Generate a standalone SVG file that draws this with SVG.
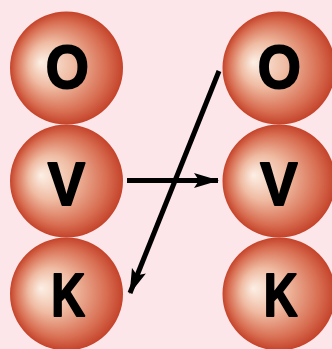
<svg xmlns="http://www.w3.org/2000/svg" width="332" height="349" viewBox="0 0 332 349">
<defs>
<radialGradient id="ball" cx="0.5" cy="0.5" r="0.5" fx="0.27" fy="0.45">
<stop offset="0" stop-color="#fcefe5"/>
<stop offset="0.4" stop-color="#efbba2"/>
<stop offset="0.8" stop-color="#d86e52"/>
<stop offset="1" stop-color="#c4432a"/>
</radialGradient>
<marker id="ah" viewBox="0 0 26 16" refX="24" refY="8" markerWidth="26" markerHeight="16" markerUnits="userSpaceOnUse" orient="auto">
<path d="M0,0.5 L25,8 L0,15.5 L5,8 Z" fill="#000"/>
</marker>
<style>
.b{fill:url(#ball);}
.t{font-family:"Liberation Sans",Arial,sans-serif;font-weight:bold;font-size:61.5px;fill:#000;stroke:#000;stroke-width:2;stroke-linejoin:round;text-anchor:middle;}
.c{stroke:#000;stroke-width:5;fill:none;marker-end:url(#ah);}
</style>
</defs>
<rect width="332" height="349" fill="#fde6e9"/>
<g id="L-O"><circle class="b" cx="66.5" cy="68" r="56.5"/><text class="t" transform="translate(67.2,88) scale(0.9,1)">O</text></g>
<g id="L-V"><circle class="b" cx="66.5" cy="181" r="56.5"/><text class="t" transform="translate(66.5,204.5) scale(0.91,1)">V</text></g>
<g id="L-K"><circle class="b" cx="66.5" cy="294" r="56.5"/><text class="t" transform="translate(68,315.5) scale(0.76,1)">K</text></g>
<g id="R-O"><circle class="b" cx="279" cy="68" r="56.5"/><text class="t" transform="translate(279.2,88) scale(0.9,1)">O</text></g>
<g id="R-V"><circle class="b" cx="279" cy="181" r="56.5"/><text class="t" transform="translate(279,204.5) scale(0.91,1)">V</text></g>
<g id="R-K"><circle class="b" cx="279" cy="294" r="56.5"/><text class="t" transform="translate(280.5,315.5) scale(0.76,1)">K</text></g>
<g id="connectors">
<line class="c" x1="127" y1="180.5" x2="218" y2="180.5"/>
<line class="c" x1="219" y1="71" x2="130" y2="293"/>
</g>
</svg>
